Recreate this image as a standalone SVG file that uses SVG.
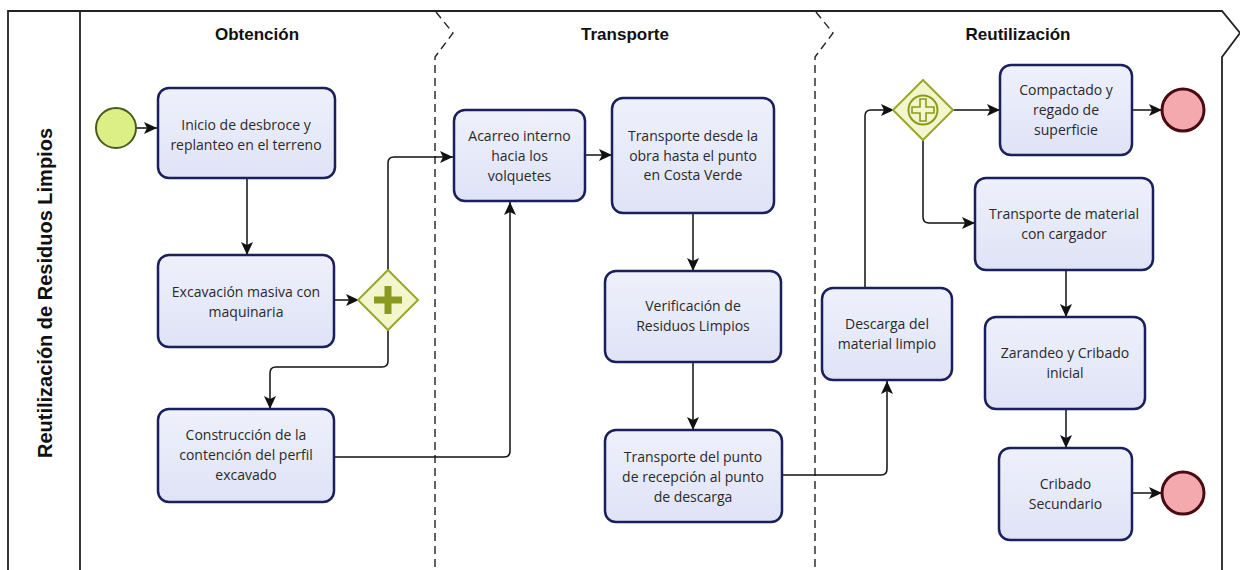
<svg xmlns="http://www.w3.org/2000/svg" width="1240" height="570" viewBox="0 0 1240 570">
<defs>
<linearGradient id="taskFill" x1="0" y1="0" x2="0" y2="1">
<stop offset="0" stop-color="#eef0fb"/>
<stop offset="1" stop-color="#dfe3f6"/>
</linearGradient>
<marker id="arrow" markerUnits="userSpaceOnUse" markerWidth="14" markerHeight="12" refX="13" refY="6" orient="auto">
<path d="M0,0 L13,6 L0,12 L3,6 z" fill="#111"/>
</marker>
<style>
.frame{fill:none;stroke:#222;stroke-width:1.8}
.sep{fill:none;stroke:#222;stroke-width:1.4;stroke-dasharray:8 5}
.title{font-family:"Liberation Sans",Arial,sans-serif;font-weight:bold;font-size:17px;fill:#111;text-anchor:middle}
.pool{font-family:"Liberation Sans",Arial,sans-serif;font-weight:bold;font-size:20px;fill:#111;text-anchor:middle}
.task rect{fill:url(#taskFill);stroke:#1b1f5c;stroke-width:2.5}
.task text{font-family:"Open Sans","Noto Sans",sans-serif;font-size:14px;fill:#2a2a2a;text-anchor:middle}
.start{fill:#dcef86;stroke:#4a5a1c;stroke-width:2}
.end{fill:#f4a9ae;stroke:#4a0a14;stroke-width:3}
.gw{fill:#f3f6cc;stroke:#9aa82a;stroke-width:2}
.conn path{fill:none;stroke:#111;stroke-width:1.5;marker-end:url(#arrow)}
</style>
</defs>
<rect x="0" y="0" width="1240" height="570" fill="#ffffff"/>
<g id="frame">
<path class="frame" d="M8,570 V11 H1222 L1240,33 L1222,57 V570"/>
<line class="frame" x1="80" y1="11" x2="80" y2="570"/>
<path class="sep" d="M436,12 L453,33 L435,57 V570"/>
<path class="sep" d="M816,12 L833,33 L815,57 V570"/>
<text class="pool" transform="translate(52,293) rotate(-90)">Reutilización de Residuos Limpios</text>
<text class="title" x="257" y="40">Obtención</text>
<text class="title" x="625" y="40">Transporte</text>
<text class="title" x="1018" y="40">Reutilización</text>
</g>
<g id="connectors" class="conn">
<path d="M136,128 H157"/>
<path d="M247,178 V255"/>
<path d="M334,300 H359"/>
<path d="M388,270 V163 Q388,157 394,157 H453"/>
<path d="M388,330 V361 Q388,367 382,367 H276 Q270,367 270,373 V409"/>
<path d="M334,457 H504 Q510,457 510,451 V202"/>
<path d="M585,155 H612"/>
<path d="M693,213 V271"/>
<path d="M693,362 V430"/>
<path d="M782,475 H881 Q887,475 887,469 V381"/>
<path d="M865,288 V116 Q865,110 871,110 H894"/>
<path d="M952,110 H1000"/>
<path d="M1132,110 H1162"/>
<path d="M923,140 V217 Q923,223 929,223 H975"/>
<path d="M1066,270 V317"/>
<path d="M1066,409 V448"/>
<path d="M1132,493 H1162"/>
</g>
<g id="start"><circle class="start" cx="116" cy="128" r="20"/></g>
<g id="t1" class="task"><rect x="158" y="88" width="177" height="90" rx="11"/><text x="246" y="130">Inicio de desbroce y</text><text x="246" y="150">replanteo en el terreno</text></g>
<g id="t2" class="task"><rect x="158" y="255" width="176" height="92" rx="11"/><text x="246" y="297">Excavación masiva con</text><text x="246" y="317">maquinaria</text></g>
<g id="gw1"><path class="gw" d="M388,270 L418,300 L388,330 L358,300 z"/><path d="M384.5,286 h7 v10.5 h10.5 v7 h-10.5 v10.5 h-7 v-10.5 h-10.5 v-7 h10.5 z" fill="#8a9a1e"/></g>
<g id="t3" class="task"><rect x="158" y="409" width="176" height="93" rx="11"/><text x="246" y="440">Construcción de la</text><text x="246" y="460">contención del perfil</text><text x="246" y="480">excavado</text></g>
<g id="t4" class="task"><rect x="454" y="110" width="131" height="91" rx="11"/><text x="519.5" y="141">Acarreo interno</text><text x="519.5" y="161">hacia los</text><text x="519.5" y="181">volquetes</text></g>
<g id="t5" class="task"><rect x="612" y="98" width="162" height="115" rx="11"/><text x="693" y="141">Transporte desde la</text><text x="693" y="161">obra hasta el punto</text><text x="693" y="180">en Costa Verde</text></g>
<g id="t6" class="task"><rect x="605" y="271" width="176" height="91" rx="11"/><text x="693" y="311">Verificación de</text><text x="693" y="331">Residuos Limpios</text></g>
<g id="t7" class="task"><rect x="605" y="430" width="177" height="92" rx="11"/><text x="693" y="462">Transporte del punto</text><text x="693" y="482">de recepción al punto</text><text x="693" y="502">de descarga</text></g>
<g id="t8" class="task"><rect x="822" y="288" width="130" height="92" rx="11"/><text x="887" y="329">Descarga del</text><text x="887" y="349">material limpio</text></g>
<g id="gw2"><path class="gw" d="M923,80 L953,110 L923,140 L893,110 z"/><circle cx="923" cy="110" r="14.5" fill="none" stroke="#8a9a1e" stroke-width="2"/><path d="M920,99 h6 v8 h8 v6 h-8 v8 h-6 v-8 h-8 v-6 h8 z" fill="none" stroke="#8a9a1e" stroke-width="1.6"/></g>
<g id="t9" class="task"><rect x="1000" y="65" width="132" height="90" rx="11"/><text x="1066" y="95">Compactado y</text><text x="1066" y="115">regado de</text><text x="1066" y="135">superficie</text></g>
<g id="end1"><circle class="end" cx="1183" cy="110" r="21"/></g>
<g id="t10" class="task"><rect x="975" y="178" width="178" height="92" rx="11"/><text x="1064" y="219">Transporte de material</text><text x="1064" y="239">con cargador</text></g>
<g id="t11" class="task"><rect x="985" y="317" width="160" height="92" rx="11"/><text x="1065" y="358">Zarandeo y Cribado</text><text x="1065" y="378">inicial</text></g>
<g id="t12" class="task"><rect x="999" y="448" width="133" height="92" rx="11"/><text x="1065.5" y="489">Cribado</text><text x="1065.5" y="509">Secundario</text></g>
<g id="end2"><circle class="end" cx="1183" cy="493" r="21"/></g>
</svg>
